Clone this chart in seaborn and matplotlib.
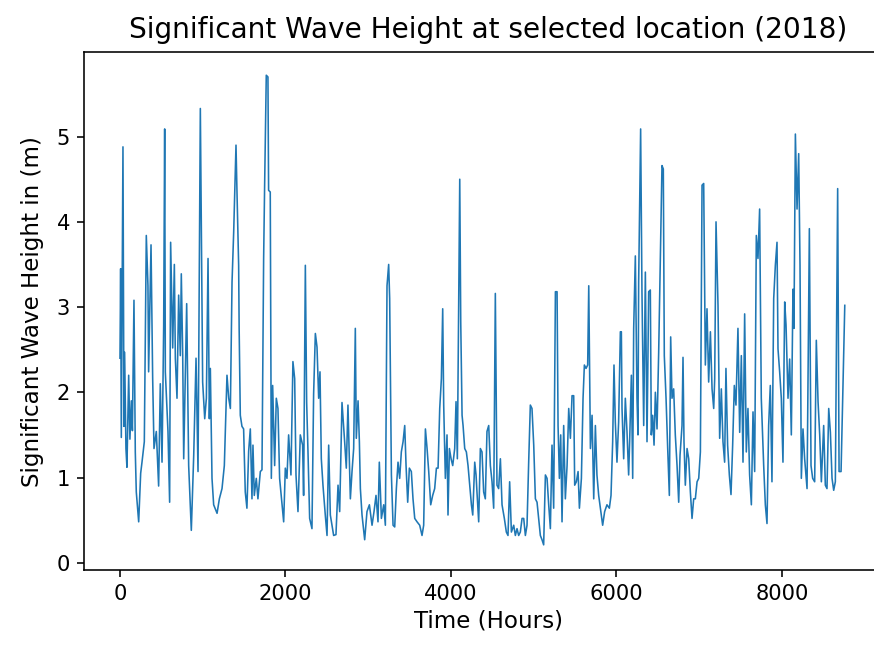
import pandas as pd
import seaborn as sns
import matplotlib.pyplot as plt

# Significant wave height, hourly index for 2018
hours = [
    0, 8, 16, 36, 48, 56, 72, 84, 105, 120, 137, 150, 169, 185, 197, 226, 250, 266, 294, 318,
    338, 346, 375, 395, 411, 439, 467, 487, 508, 528, 540, 548, 580, 600, 612, 637, 657, 669, 689, 709,
    729, 741, 758, 770, 806, 830, 862, 891, 919, 943, 971, 983, 999, 1024, 1044, 1064, 1080, 1092, 1112, 1132,
    1173, 1201, 1233, 1261, 1293, 1314, 1334, 1354, 1374, 1402,
    1413, 1434, 1440, 1454, 1474, 1494, 1514, 1534, 1555, 1575, 1595, 1607, 1623, 1647, 1667, 1696, 1716, 1736, 1748, 1768,
    1788, 1796, 1816, 1829, 1845, 1869, 1889, 1909, 1929, 1958, 1978, 1998, 2018, 2038, 2066, 2090, 2111, 2127, 2151, 2179,
    2207, 2219, 2240, 2256, 2272, 2292, 2320, 2340, 2361, 2381, 2401, 2417, 2433, 2453, 2481, 2502, 2522, 2542, 2562, 2582,
    2610, 2635, 2655, 2683, 2715, 2735, 2755, 2784, 2804, 2824, 2844, 2856,
    2877, 2893, 2905, 2925, 2957, 2985, 3014, 3046, 3070, 3094, 3118, 3134, 3159, 3187, 3207, 3227, 3247, 3259, 3280, 3300,
    3320, 3340, 3360, 3380, 3400, 3421, 3441, 3457, 3477, 3497, 3521, 3541, 3562, 3590, 3622, 3650, 3670, 3691, 3711, 3731,
    3755, 3779, 3803, 3824, 3844, 3864, 3884, 3900, 3912, 3932, 3952, 3964, 3981, 4001, 4021, 4045, 4061, 4077, 4094, 4106,
    4118, 4134, 4146, 4166, 4186, 4206, 4223, 4247, 4263, 4287, 4303,
    4314, 4335, 4355, 4375, 4395, 4415, 4435, 4456, 4476, 4496, 4516, 4536, 4556, 4576, 4597, 4617, 4645, 4669, 4689, 4709,
    4730, 4758, 4778, 4798, 4818, 4838, 4859, 4879, 4899, 4919, 4939, 4959, 4979, 5000, 5020, 5040, 5060, 5080, 5100, 5120,
    5141, 5161, 5181, 5201, 5221, 5241, 5262, 5282, 5294, 5310, 5326, 5342, 5362, 5382, 5403, 5423, 5443, 5463, 5483, 5495,
    5515, 5536, 5552, 5576, 5596, 5612, 5632, 5652, 5665, 5685, 5705, 5725, 5745,
    5764, 5785, 5805, 5833, 5857, 5885, 5914, 5934, 5954, 5970, 5986, 6006, 6026, 6047, 6059, 6067, 6087, 6107, 6127, 6147,
    6159, 6180, 6196, 6208, 6228, 6248, 6260, 6268, 6292, 6308, 6329, 6349, 6369, 6389, 6409, 6421, 6437, 6454, 6470, 6490,
    6510, 6530, 6550, 6566, 6578, 6599, 6619, 6639, 6655, 6671, 6691, 6711, 6732, 6752, 6768, 6792, 6804, 6816, 6832, 6853,
    6873, 6893, 6913, 6933, 6953, 6974, 6994, 7014, 7034, 7054, 7074, 7094, 7114, 7135, 7155, 7175, 7187, 7203,
    7227, 7247, 7267, 7287, 7307, 7323, 7343, 7364, 7384, 7404, 7424, 7444, 7468, 7489, 7509, 7529, 7549, 7569, 7589, 7609,
    7630, 7650, 7670, 7690, 7710, 7730, 7750, 7779, 7799, 7819, 7839, 7859, 7879, 7900, 7920, 7940, 7952, 7972, 7992, 8012,
    8033, 8049, 8073, 8093, 8113, 8133, 8145, 8162, 8182, 8202, 8218, 8234, 8254, 8274, 8303, 8331, 8351, 8371, 8395, 8415,
    8436, 8456, 8476, 8504, 8524, 8544, 8565, 8585, 8605, 8625, 8645, 8673, 8690, 8714, 8759,
]
wave_height = [
    2.40, 3.45, 1.47, 4.88, 1.60, 2.47, 1.34, 1.12, 2.20, 1.45, 1.90, 1.55, 3.08, 1.30, 0.83, 0.48, 1.05, 1.18, 1.42, 3.84,
    3.25, 2.24, 3.73, 2.16, 1.34, 1.54, 0.90, 2.10, 1.18, 2.78, 5.09, 2.24, 1.54, 0.71, 3.76, 2.52, 3.50, 2.40, 1.93, 3.14,
    2.43, 3.39, 2.43, 1.22, 3.04, 1.14, 0.38, 1.26, 2.40, 1.07, 5.33, 4.00, 2.12, 1.69, 1.93, 3.57, 1.69, 2.28, 0.99, 0.68,
    0.58, 0.75, 0.87, 1.14, 2.20, 1.93, 1.81, 3.29, 3.88, 4.90,
    4.39, 3.49, 2.75, 1.73, 1.60, 1.57, 0.83, 0.64, 1.31, 1.57, 0.75, 1.38, 0.79, 0.99, 0.75, 1.07, 1.09, 3.57, 4.43, 5.72,
    5.70, 4.37, 4.35, 0.99, 2.08, 1.14, 1.93, 1.81, 0.99, 0.68, 0.48, 1.11, 0.99, 1.50, 1.03, 2.36, 2.16, 1.03, 0.60, 1.50,
    1.38, 0.79, 3.49, 1.88, 1.30, 0.52, 0.40, 1.98, 2.69, 2.53, 1.93, 2.24, 1.22, 0.91, 0.56, 0.32, 1.38, 0.56, 0.44, 0.32,
    0.33, 0.91, 0.60, 1.88, 1.42, 1.11, 1.85, 0.75, 1.07, 1.34, 2.75, 1.46,
    1.90, 1.42, 0.87, 0.56, 0.27, 0.60, 0.68, 0.44, 0.60, 0.79, 0.48, 1.18, 0.52, 0.68, 0.44, 3.25, 3.50, 3.10, 1.03, 0.44,
    0.42, 0.87, 1.18, 0.99, 1.30, 1.42, 1.61, 1.14, 0.71, 1.11, 1.07, 0.75, 0.52, 0.48, 0.44, 0.32, 0.44, 1.57, 1.34, 1.07,
    0.68, 0.79, 0.87, 1.11, 1.11, 1.81, 2.16, 2.98, 1.85, 0.99, 1.50, 0.56, 1.34, 1.22, 1.14, 1.34, 1.89, 1.22, 3.14, 4.50,
    2.82, 1.73, 1.61, 1.34, 1.30, 1.14, 0.95, 0.68, 0.56, 1.18, 1.03,
    0.83, 0.48, 1.34, 1.30, 0.83, 0.75, 1.54, 1.61, 1.14, 0.95, 0.64, 3.16, 0.91, 0.87, 1.22, 0.68, 0.52, 0.36, 0.32, 0.95,
    0.36, 0.44, 0.32, 0.40, 0.32, 0.36, 0.52, 0.52, 0.32, 0.44, 1.18, 1.85, 1.81, 1.38, 0.75, 0.71, 0.52, 0.32, 0.27, 0.21,
    1.03, 0.99, 0.68, 0.40, 1.38, 0.64, 3.18, 3.18, 1.61, 0.99, 1.50, 0.48, 1.61, 0.75, 1.14, 1.81, 1.46, 1.96, 1.96, 0.91,
    0.95, 1.07, 0.64, 0.99, 1.93, 2.32, 2.28, 2.32, 3.25, 1.34, 1.73, 0.75, 1.61,
    1.03, 0.79, 0.64, 0.44, 0.60, 0.68, 0.64, 0.79, 1.42, 2.32, 1.65, 1.18, 1.65, 2.71, 2.71, 1.81, 1.22, 1.93, 1.54, 1.03,
    1.42, 2.20, 0.99, 2.75, 3.60, 1.93, 1.50, 3.29, 5.09, 3.18, 1.61, 3.41, 1.42, 3.18, 3.20, 1.50, 1.73, 1.38, 2.00, 1.57,
    2.47, 3.60, 4.66, 4.62, 2.43, 1.93, 1.34, 0.79, 2.65, 1.93, 2.04, 1.50, 1.14, 0.71, 1.26, 1.61, 2.41, 1.42, 0.91, 1.34,
    1.22, 0.83, 0.52, 0.75, 0.75, 0.95, 0.99, 1.30, 4.43, 4.45, 2.32, 2.98, 2.12, 2.71, 2.04, 1.81, 2.16, 4.00,
    3.02, 1.46, 2.04, 1.42, 1.18, 2.28, 1.38, 1.03, 0.80, 1.38, 2.08, 1.85, 2.75, 1.53, 2.43, 1.18, 2.92, 1.30, 1.81, 1.03,
    0.68, 1.77, 1.07, 3.84, 3.57, 4.15, 1.93, 1.14, 0.68, 0.46, 1.61, 2.08, 0.95, 3.10, 3.49, 3.76, 2.51, 2.24, 1.93, 1.18,
    3.06, 2.79, 1.93, 2.39, 1.50, 3.21, 2.75, 5.03, 4.15, 4.80, 3.49, 0.99, 1.57, 1.22, 0.87, 3.92, 1.14, 0.99, 0.95, 2.61,
    1.89, 1.50, 0.95, 1.61, 0.91, 0.87, 1.81, 1.53, 0.99, 0.85, 0.95, 4.39, 1.07, 1.07, 3.02,
]

df = pd.DataFrame({'Hour': hours, 'Hs': wave_height})

fig = plt.figure(figsize=(874 / 144, 648 / 144), dpi=144)
# right edge sits just past the image border, as in the cropped original
ax = fig.add_axes([0.0961, 0.1204, 0.925, 0.799])

sns.lineplot(data=df, x='Hour', y='Hs', ax=ax, color='#1f77b4', linewidth=0.8)

ax.set_xlim(-435, 9335)
ax.set_ylim(-0.085, 5.99)
ax.set_xticks([0, 2000, 4000, 6000, 8000])
ax.set_title('Significant Wave Height at selected location (2018)', fontsize=14, pad=7)
ax.set_xlabel('Time (Hours)', fontsize=11.5, labelpad=3)
ax.set_ylabel('Significant Wave Height in (m)', fontsize=11.5, labelpad=6)
ax.tick_params(labelsize=10.5)

fig.savefig('out.png', dpi=144)
plt.close(fig)
